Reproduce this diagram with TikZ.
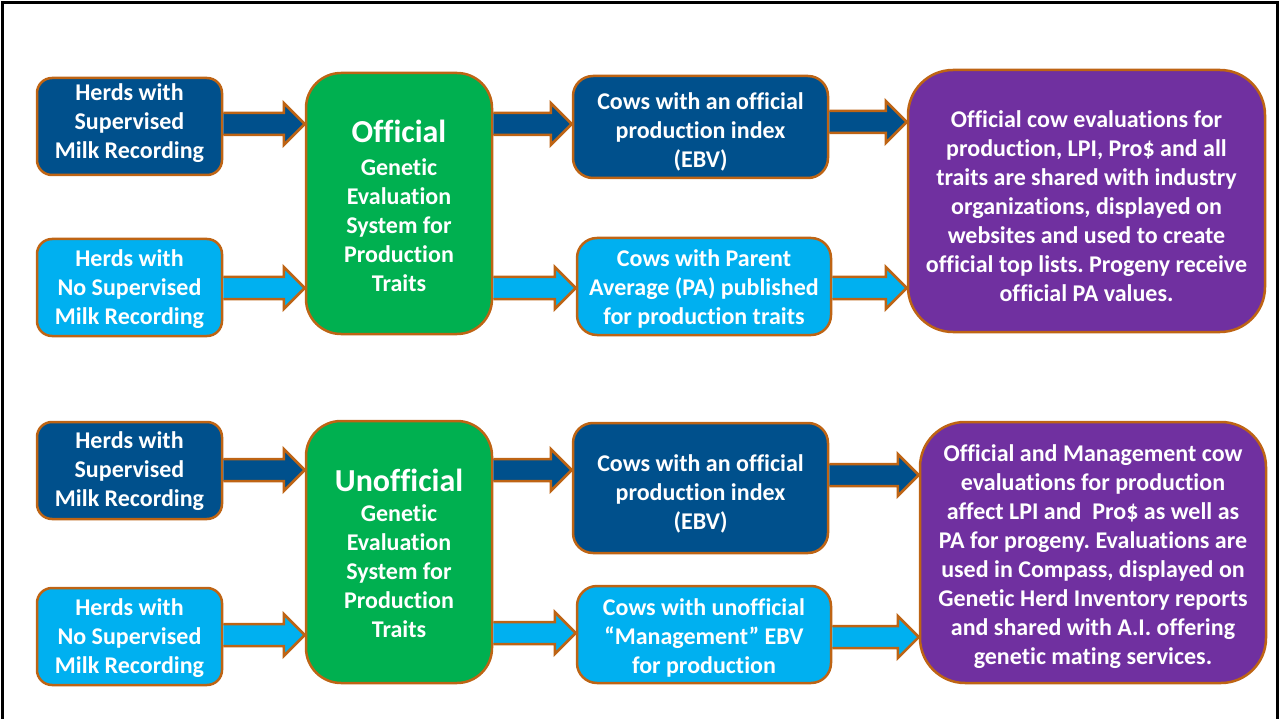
\documentclass[tikz,border=0pt]{standalone}
\usepackage{fontspec}
\setmainfont{Carlito}[Ligatures=NoCommon]
\frenchspacing
\usetikzlibrary{calc}
\definecolor{dblue}{RGB}{0,80,140}
\definecolor{lblue}{RGB}{0,176,240}
\definecolor{gboxc}{RGB}{0,176,80}
\definecolor{pboxc}{RGB}{112,48,160}
\definecolor{edgec}{RGB}{190,100,20}
\tikzset{
  box/.style={draw=edgec, line width=2.5pt, inner sep=0pt},
  txt/.style={text=white, align=center, inner sep=0pt,
    font=\bfseries\fontsize{24}{29}\selectfont},
  hbox/.style={box, minimum width=185pt, minimum height=97pt, rounded corners=15pt},
  cbox/.style={box, rounded corners=20pt},
  gbox/.style={box, fill=gboxc, minimum width=186pt, rounded corners=35pt},
  pbox/.style={box, fill=pboxc, rounded corners=45pt},
  fatarrow/.style={draw=edgec, line width=2.5pt, line join=miter}
}
\newcommand{\fatarr}[4]{%
  \fill[#3] let \p1=(#1.east), \p2=(#2.west), \p3=(0,#4) in
    (\x1,\y3+11pt) -- (\x2-21pt,\y3+11pt) -- (\x2-21pt,\y3+21pt) -- (\x2,\y3)
    -- (\x2-21pt,\y3-21pt) -- (\x2-21pt,\y3-11pt) -- (\x1,\y3-11pt) -- cycle;
  \draw[fatarrow] let \p1=(#1.east), \p2=(#2.west), \p3=(0,#4) in
    (\x1,\y3+11pt) -- (\x2-21pt,\y3+11pt) -- (\x2-21pt,\y3+21pt) -- (\x2,\y3)
    -- (\x2-21pt,\y3-21pt) -- (\x2-21pt,\y3-11pt) -- (\x1,\y3-11pt);
}
\begin{document}
\begin{tikzpicture}[x=1pt,y=-1pt]
\useasboundingbox (0,0) rectangle (1279,719);
\draw[line width=3pt] (2,719) -- (2,3) -- (1277,3) -- (1277,719);

% top half
\node[hbox, fill=dblue, label={[txt,yshift=3pt]center:{Herds with\\Supervised\\Milk Recording}}] (a1) at (129.5,126.5) {};
\node[hbox, fill=lblue, label={[txt,yshift=-2pt]center:{Herds with\\No Supervised\\Milk Recording}}] (a2) at (129.5,287.5) {};
\node[gbox, minimum height=261pt, label={[txt,yshift=-2pt]center:{{\fontsize{32}{35}\selectfont Official}\\[4pt]Genetic\\Evaluation\\System for\\Production\\Traits}}] (g1) at (399,203.5) {};
\node[cbox, fill=dblue, minimum width=255pt, minimum height=102pt, label={[txt,yshift=-5pt]center:{Cows with an official\\production index\\(EBV)}}] (c1) at (700.5,127) {};
\node[cbox, fill=lblue, minimum width=254pt, minimum height=97pt, label={[txt,yshift=-2pt]center:{Cows with Parent\\Average (PA) published\\for production traits}}] (c2) at (704,286.5) {};
\node[pbox, minimum width=357pt, minimum height=262pt, label={[txt,yshift=-5pt]center:{Official cow evaluations for\\production, LPI, Pro\$ and all\\traits are shared with industry\\organizations, displayed on\\websites and used to create\\official top lists. Progeny receive\\official PA values.}}] (p1) at (1086.5,201) {};

% bottom half
\node[hbox, fill=dblue, label={[txt,yshift=-1pt]center:{Herds with\\Supervised\\Milk Recording}}] (a3) at (129.5,470.5) {};
\node[hbox, fill=lblue, label={[txt,yshift=-2pt]center:{Herds with\\No Supervised\\Milk Recording}}] (a4) at (129.5,636.5) {};
\node[gbox, minimum height=262pt, label={[txt,yshift=-1pt]center:{{\fontsize{32}{35}\selectfont Unofficial}\\[1pt]Genetic\\Evaluation\\System for\\Production\\Traits}}] (g2) at (399,552) {};
\node[cbox, fill=dblue, minimum width=255pt, minimum height=130pt, label={[txt,yshift=-6pt]center:{Cows with an official\\production index\\(EBV)}}] (c3) at (700.5,488) {};
\node[cbox, fill=lblue, minimum width=254pt, minimum height=97pt, label={[txt,yshift=-3pt]center:{Cows with unofficial\\``Management'' EBV\\for production}}] (c4) at (704,634.5) {};
\node[pbox, minimum width=346pt, minimum height=261pt, label={[txt,yshift=-4pt]center:{Official and Management cow\\evaluations for production\\affect LPI and\ \ Pro\$ as well as\\PA for progeny. Evaluations are\\used in Compass, displayed on\\Genetic Herd Inventory reports\\and shared with A.I. offering\\genetic mating services.}}] (p2) at (1093,552.5) {};

% arrows
\fatarr{a1}{g1}{dblue}{124}
\fatarr{a2}{g1}{lblue}{288}
\fatarr{g1}{c1}{dblue}{124}
\fatarr{g1}{c2}{lblue}{288}
\fatarr{c1}{p1}{dblue}{122}
\fatarr{c2}{p1}{lblue}{288}
\fatarr{a3}{g2}{dblue}{470}
\fatarr{a4}{g2}{lblue}{635}
\fatarr{g2}{c3}{dblue}{470}
\fatarr{g2}{c4}{lblue}{633}
\fatarr{c3}{p2}{dblue}{475}
\fatarr{c4}{p2}{lblue}{637}
\end{tikzpicture}
\end{document}
